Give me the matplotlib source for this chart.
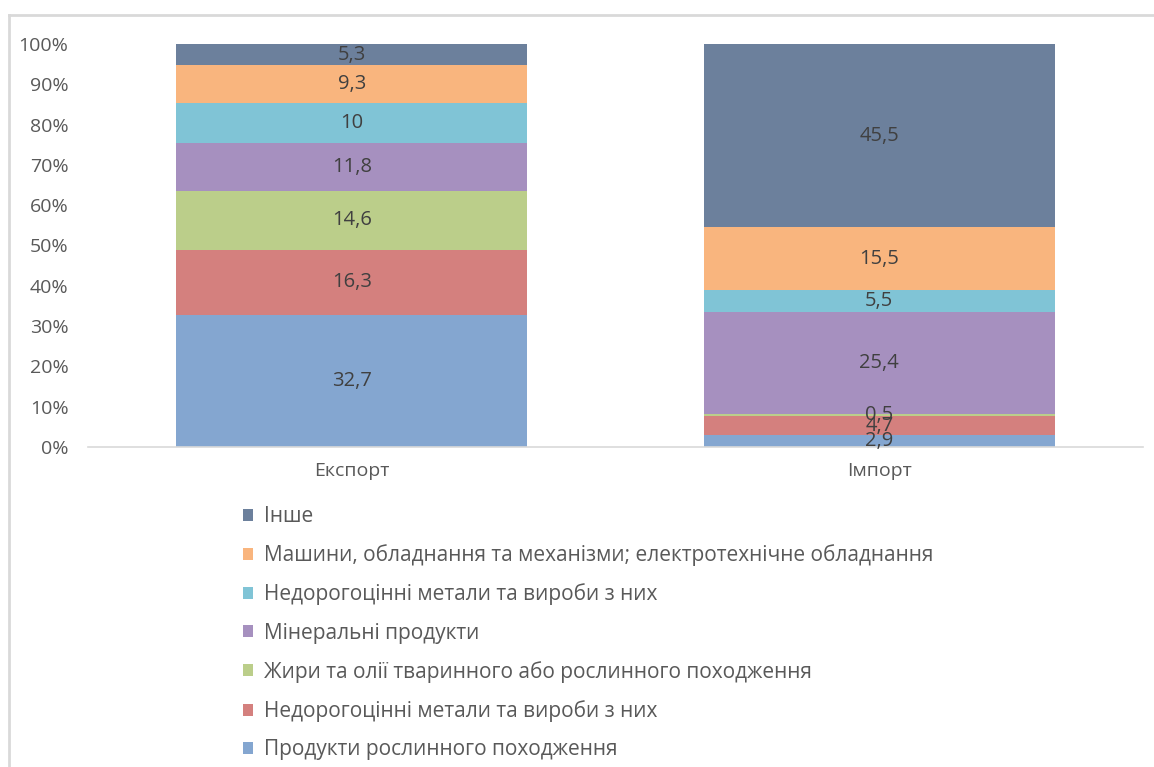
import matplotlib
matplotlib.use("Agg")
import matplotlib.pyplot as plt
from matplotlib.lines import Line2D
from matplotlib.patches import Patch
from matplotlib.ticker import PercentFormatter

plt.rcParams['font.family'] = ['Open Sans', 'DejaVu Sans']

categories = ['Експорт', 'Імпорт']
series_names = [
    'Продукти рослинного походження',
    'Недорогоцінні метали та вироби з них',
    'Жири та олії тваринного або рослинного походження',
    'Мінеральні продукти',
    'Недорогоцінні метали та вироби з них',
    'Машини, обладнання та механізми; електротехнічне обладнання',
    'Інше',
]
export_vals = [32.7, 16.3, 14.6, 11.8, 10, 9.3, 5.3]
import_vals = [2.9, 4.7, 0.5, 25.4, 5.5, 15.5, 45.5]
colors = ['#84A6D0', '#D4807E', '#BBCE8A', '#A690BF', '#80C4D6', '#F9B57E', '#6C809C']

fig = plt.figure(figsize=(11.54, 7.67), dpi=100)
ax = fig.add_axes([88 / 1154, 1 - 447 / 767, (1143 - 88) / 1154, (447 - 44) / 767])

x = [0, 1]
bottoms = [0, 0]
for i, name in enumerate(series_names):
    vals = [export_vals[i], import_vals[i]]
    bars = ax.bar(x, vals, bottom=bottoms, width=0.665, color=colors[i], label=name)
    labels = [str(v).replace('.', ',') for v in vals]
    ax.bar_label(bars, labels=labels, label_type='center', fontsize=14.5, color='#404040')
    bottoms = [bottoms[0] + vals[0], bottoms[1] + vals[1]]

ax.set_xlim(-0.5, 1.5)
ax.set_ylim(0, 100)
ax.set_yticks(range(0, 101, 10))
ax.yaxis.set_major_formatter(PercentFormatter(decimals=0))
ax.set_xticks(x)
ax.set_xticklabels(categories)
ax.tick_params(axis='both', length=0, labelsize=14, labelcolor='#595959')
ax.tick_params(axis='y', pad=14)
ax.tick_params(axis='x', pad=11)
for s in ['top', 'right', 'left']:
    ax.spines[s].set_visible(False)
ax.spines['bottom'].set_color('#D9D9D9')
ax.spines['bottom'].set_linewidth(1.2)

handles = [Patch(facecolor=c) for c in colors][::-1]
fig.legend(handles, series_names[::-1], loc='upper left',
           bbox_to_anchor=(243 / 1154, 1 - 506 / 767), frameon=False,
           fontsize=15, labelcolor='#595959', labelspacing=0.83,
           handlelength=0.5, handleheight=0.5, handletextpad=0.5,
           borderpad=0, borderaxespad=0)

# chart area border
fig.add_artist(Line2D([9 / 1154, 9 / 1154], [0, 1 - 15 / 767], color='#D9D9D9', lw=2))
fig.add_artist(Line2D([9 / 1154, 1], [1 - 15 / 767, 1 - 15 / 767], color='#D9D9D9', lw=2))

fig.savefig('out.png', dpi=100)
